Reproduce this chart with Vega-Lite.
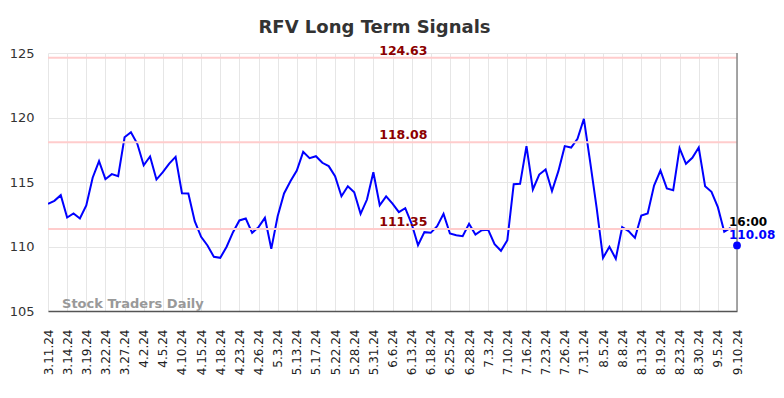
{
  "$schema": "https://vega.github.io/schema/vega-lite/v6.json",
  "width": 689,
  "height": 258,
  "autosize": {"type": "none"},
  "padding": {"left": 48, "top": 53, "right": 47, "bottom": 87},
  "background": "white",
  "title": {"text": "RFV Long Term Signals", "fontSize": 18, "fontWeight": "bold", "color": "#333333", "font": "DejaVu Sans", "anchor": "middle", "offset": 8, "dx": -18},
  "config": {
    "view": {"stroke": null},
    "font": "DejaVu Sans",
    "axisX": {
      "title": null,
      "labelAngle": -90,
      "labelAlign": "right",
      "labelBaseline": "middle",
      "labelFontSize": 12,
      "labelColor": "#222222",
      "labelPadding": 18,
      "labelOverlap": false,
      "labelFlush": false,
      "ticks": false,
      "domain": true,
      "domainColor": "#555555",
      "domainWidth": 1.5,
      "grid": true,
      "gridColor": "#e6e6e6",
      "gridWidth": 1
    },
    "axisY": {
      "title": null,
      "labelFontSize": 13,
      "labelColor": "#333333",
      "labelPadding": 14,
      "ticks": false,
      "domain": false,
      "grid": true,
      "gridColor": "#e6e6e6",
      "gridWidth": 1
    }
  },
  "datasets": {
    "price": [
      {"i": 0, "v": 113.31}, {"i": 1, "v": 113.54}, {"i": 2, "v": 113.98}, {"i": 3, "v": 112.25}, {"i": 4, "v": 112.56},
      {"i": 5, "v": 112.17}, {"i": 6, "v": 113.18}, {"i": 7, "v": 115.33}, {"i": 8, "v": 116.62}, {"i": 9, "v": 115.22},
      {"i": 10, "v": 115.61}, {"i": 11, "v": 115.45}, {"i": 12, "v": 118.47}, {"i": 13, "v": 118.86}, {"i": 14, "v": 117.96},
      {"i": 15, "v": 116.30}, {"i": 16, "v": 116.98}, {"i": 17, "v": 115.19}, {"i": 18, "v": 115.76}, {"i": 19, "v": 116.43},
      {"i": 20, "v": 116.95}, {"i": 21, "v": 114.13}, {"i": 22, "v": 114.11}, {"i": 23, "v": 111.96}, {"i": 24, "v": 110.75},
      {"i": 25, "v": 110.08}, {"i": 26, "v": 109.20}, {"i": 27, "v": 109.12}, {"i": 28, "v": 109.98}, {"i": 29, "v": 111.11},
      {"i": 30, "v": 112.02}, {"i": 31, "v": 112.17}, {"i": 32, "v": 111.06}, {"i": 33, "v": 111.50}, {"i": 34, "v": 112.22},
      {"i": 35, "v": 109.82}, {"i": 36, "v": 112.35}, {"i": 37, "v": 114.11}, {"i": 38, "v": 115.06}, {"i": 39, "v": 115.89},
      {"i": 40, "v": 117.34}, {"i": 41, "v": 116.85}, {"i": 42, "v": 117.00}, {"i": 43, "v": 116.49}, {"i": 44, "v": 116.23},
      {"i": 45, "v": 115.45}, {"i": 46, "v": 113.90}, {"i": 47, "v": 114.67}, {"i": 48, "v": 114.21}, {"i": 49, "v": 112.53},
      {"i": 50, "v": 113.64}, {"i": 51, "v": 115.76}, {"i": 52, "v": 113.20}, {"i": 53, "v": 113.88}, {"i": 54, "v": 113.33},
      {"i": 55, "v": 112.66}, {"i": 56, "v": 112.97}, {"i": 57, "v": 111.76}, {"i": 58, "v": 110.10}, {"i": 59, "v": 111.11},
      {"i": 60, "v": 111.06}, {"i": 61, "v": 111.57}, {"i": 62, "v": 112.53}, {"i": 63, "v": 111.01}, {"i": 64, "v": 110.88},
      {"i": 65, "v": 110.80}, {"i": 66, "v": 111.76}, {"i": 67, "v": 110.93}, {"i": 68, "v": 111.26}, {"i": 69, "v": 111.29},
      {"i": 70, "v": 110.18}, {"i": 71, "v": 109.67}, {"i": 72, "v": 110.49}, {"i": 73, "v": 114.83}, {"i": 74, "v": 114.86},
      {"i": 75, "v": 117.78}, {"i": 76, "v": 114.42}, {"i": 77, "v": 115.58}, {"i": 78, "v": 115.97}, {"i": 79, "v": 114.29},
      {"i": 80, "v": 115.84}, {"i": 81, "v": 117.78}, {"i": 82, "v": 117.67}, {"i": 83, "v": 118.35}, {"i": 84, "v": 119.90},
      {"i": 85, "v": 116.50}, {"i": 86, "v": 113.00}, {"i": 87, "v": 109.12}, {"i": 88, "v": 109.98}, {"i": 89, "v": 109.05},
      {"i": 90, "v": 111.50}, {"i": 91, "v": 111.19}, {"i": 92, "v": 110.67}, {"i": 93, "v": 112.40}, {"i": 94, "v": 112.56},
      {"i": 95, "v": 114.73}, {"i": 96, "v": 115.89}, {"i": 97, "v": 114.50}, {"i": 98, "v": 114.37}, {"i": 99, "v": 117.62},
      {"i": 100, "v": 116.41}, {"i": 101, "v": 116.88}, {"i": 102, "v": 117.67}, {"i": 103, "v": 114.67}, {"i": 104, "v": 114.24},
      {"i": 105, "v": 113.05}, {"i": 106, "v": 111.14}, {"i": 107, "v": 111.45}
    ],
    "last": [{"i": 108, "v": 110.08, "time": "16:00", "label": "110.08"}],
    "levels": [{"level": 124.63, "label": "124.63"}, {"level": 118.08, "label": "118.08"}, {"level": 111.35, "label": "111.35"}]
  },
  "layer": [
    {
      "data": {"name": "price"},
      "mark": {"type": "line", "color": "#0000ff", "strokeWidth": 2, "clip": true},
      "encoding": {
        "x": {
          "field": "i", "type": "quantitative",
          "scale": {"domain": [0, 108], "nice": false, "zero": false},
          "axis": {
            "values": [0, 3, 6, 9, 12, 15, 18, 21, 24, 27, 30, 33, 36, 39, 42, 45, 48, 51, 54, 57, 60, 63, 66, 69, 72, 75, 78, 81, 84, 87, 90, 93, 96, 99, 102, 105, 108],
            "labelExpr": "['3.11.24','3.14.24','3.19.24','3.22.24','3.27.24','4.2.24','4.5.24','4.10.24','4.15.24','4.18.24','4.23.24','4.26.24','5.3.24','5.13.24','5.17.24','5.22.24','5.28.24','5.31.24','6.6.24','6.13.24','6.18.24','6.25.24','6.28.24','7.3.24','7.10.24','7.16.24','7.23.24','7.26.24','7.31.24','8.5.24','8.8.24','8.13.24','8.19.24','8.23.24','8.30.24','9.5.24','9.10.24'][round(datum.value/3)]"
          }
        },
        "y": {
          "field": "v", "type": "quantitative",
          "scale": {"domain": [105, 125], "nice": false, "zero": false},
          "axis": {"values": [105, 110, 115, 120, 125]}
        }
      }
    },
    {
      "data": {"name": "levels"},
      "mark": {"type": "rule", "color": "#ffcccc", "strokeWidth": 2},
      "encoding": {
        "y": {"field": "level", "type": "quantitative", "axis": {"values": [105, 110, 115, 120, 125]}}
      }
    },
    {
      "data": {"name": "levels"},
      "mark": {"type": "text", "color": "#8b0000", "fontWeight": "bold", "fontSize": 12.5, "align": "center", "baseline": "alphabetic", "dy": -3},
      "encoding": {
        "x": {"datum": 55.7, "type": "quantitative", "axis": {
            "values": [0, 3, 6, 9, 12, 15, 18, 21, 24, 27, 30, 33, 36, 39, 42, 45, 48, 51, 54, 57, 60, 63, 66, 69, 72, 75, 78, 81, 84, 87, 90, 93, 96, 99, 102, 105, 108],
            "labelExpr": "['3.11.24','3.14.24','3.19.24','3.22.24','3.27.24','4.2.24','4.5.24','4.10.24','4.15.24','4.18.24','4.23.24','4.26.24','5.3.24','5.13.24','5.17.24','5.22.24','5.28.24','5.31.24','6.6.24','6.13.24','6.18.24','6.25.24','6.28.24','7.3.24','7.10.24','7.16.24','7.23.24','7.26.24','7.31.24','8.5.24','8.8.24','8.13.24','8.19.24','8.23.24','8.30.24','9.5.24','9.10.24'][round(datum.value/3)]"
          }},
        "y": {"field": "level", "type": "quantitative", "axis": {"values": [105, 110, 115, 120, 125]}},
        "text": {"field": "label"}
      }
    },
    {
      "data": {"name": "last"},
      "mark": {"type": "rule", "color": "#888888", "strokeWidth": 1.5},
      "encoding": {"x": {"field": "i", "type": "quantitative", "axis": {
            "values": [0, 3, 6, 9, 12, 15, 18, 21, 24, 27, 30, 33, 36, 39, 42, 45, 48, 51, 54, 57, 60, 63, 66, 69, 72, 75, 78, 81, 84, 87, 90, 93, 96, 99, 102, 105, 108],
            "labelExpr": "['3.11.24','3.14.24','3.19.24','3.22.24','3.27.24','4.2.24','4.5.24','4.10.24','4.15.24','4.18.24','4.23.24','4.26.24','5.3.24','5.13.24','5.17.24','5.22.24','5.28.24','5.31.24','6.6.24','6.13.24','6.18.24','6.25.24','6.28.24','7.3.24','7.10.24','7.16.24','7.23.24','7.26.24','7.31.24','8.5.24','8.8.24','8.13.24','8.19.24','8.23.24','8.30.24','9.5.24','9.10.24'][round(datum.value/3)]"
          }}}
    },
    {
      "data": {"name": "last"},
      "encoding": {
        "x": {"field": "i", "type": "quantitative", "axis": {
            "values": [0, 3, 6, 9, 12, 15, 18, 21, 24, 27, 30, 33, 36, 39, 42, 45, 48, 51, 54, 57, 60, 63, 66, 69, 72, 75, 78, 81, 84, 87, 90, 93, 96, 99, 102, 105, 108],
            "labelExpr": "['3.11.24','3.14.24','3.19.24','3.22.24','3.27.24','4.2.24','4.5.24','4.10.24','4.15.24','4.18.24','4.23.24','4.26.24','5.3.24','5.13.24','5.17.24','5.22.24','5.28.24','5.31.24','6.6.24','6.13.24','6.18.24','6.25.24','6.28.24','7.3.24','7.10.24','7.16.24','7.23.24','7.26.24','7.31.24','8.5.24','8.8.24','8.13.24','8.19.24','8.23.24','8.30.24','9.5.24','9.10.24'][round(datum.value/3)]"
          }},
        "y": {"field": "v", "type": "quantitative", "axis": {"values": [105, 110, 115, 120, 125]}}
      },
      "layer": [
        {"mark": {"type": "point", "filled": true, "color": "#0000ff", "size": 60, "opacity": 1}},
        {"mark": {"type": "text", "color": "#0000ff", "fontWeight": "bold", "fontSize": 12, "align": "left", "baseline": "alphabetic", "dx": -8, "dy": -6.5}, "encoding": {"text": {"field": "label"}}},
        {"mark": {"type": "text", "color": "#000000", "fontWeight": "bold", "fontSize": 12, "align": "left", "baseline": "alphabetic", "dx": -8, "dy": -19.5}, "encoding": {"text": {"field": "time"}}}
      ]
    },
    {
      "data": {"values": [{"t": "Stock Traders Daily"}]},
      "mark": {"type": "text", "color": "#999999", "fontWeight": "bold", "fontSize": 13, "align": "left", "baseline": "alphabetic"},
      "encoding": {
        "x": {"datum": 2.2, "type": "quantitative", "axis": {
            "values": [0, 3, 6, 9, 12, 15, 18, 21, 24, 27, 30, 33, 36, 39, 42, 45, 48, 51, 54, 57, 60, 63, 66, 69, 72, 75, 78, 81, 84, 87, 90, 93, 96, 99, 102, 105, 108],
            "labelExpr": "['3.11.24','3.14.24','3.19.24','3.22.24','3.27.24','4.2.24','4.5.24','4.10.24','4.15.24','4.18.24','4.23.24','4.26.24','5.3.24','5.13.24','5.17.24','5.22.24','5.28.24','5.31.24','6.6.24','6.13.24','6.18.24','6.25.24','6.28.24','7.3.24','7.10.24','7.16.24','7.23.24','7.26.24','7.31.24','8.5.24','8.8.24','8.13.24','8.19.24','8.23.24','8.30.24','9.5.24','9.10.24'][round(datum.value/3)]"
          }},
        "y": {"datum": 105.27, "type": "quantitative", "axis": {"values": [105, 110, 115, 120, 125]}},
        "text": {"field": "t"}
      }
    }
  ]
}
